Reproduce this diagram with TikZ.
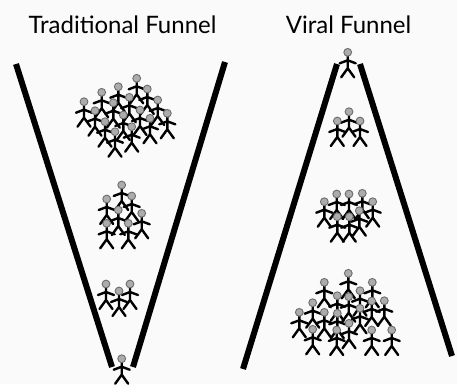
\documentclass[tikz,border=0pt]{standalone}
\usepackage{fontspec}
\setmainfont{Lato}
\begin{document}
\begin{tikzpicture}[x=1pt,y=-1pt,
  funnel/.style={line width=6pt},
  limb/.style={line width=2.4pt, line cap=round, line join=round},
  headstyle/.style={fill=gray!65, draw=gray!85!black, line width=0.9pt},
  person/.pic={
    \draw[limb] (0,3) -- (0,16)
                (-8,11) -- (0,8) -- (8,11)
                (-6.5,25) -- (0,16) -- (6.5,25);
    \draw[headstyle] (0,0) circle (3.9);
  },
  title/.style={font=\fontsize{24}{28}\selectfont, inner sep=0pt}
]
\useasboundingbox[fill=gray!4] (0,0) rectangle (457,384);

% titles
\node[title] (tradtitle) at (122.5,25) {Traditional Funnel};
\node[title] (viraltitle) at (348.5,25) {Viral Funnel};

% traditional funnel walls
\draw[funnel] (16,64) -- (112,367);
\draw[funnel] (225,62) -- (133,367);

% viral funnel walls
\draw[funnel] (337,64) -- (243,369);
\draw[funnel] (360,64) -- (452,356);

% traditional funnel: crowd at the wide top
\foreach \x/\y in {136.7/78.3, 118.3/86.7, 147.3/89, 101.7/92.3, 129.3/97.3,
                   157.7/100, 84/101.7, 113.3/102.7, 140/110, 95/110.7,
                   167.3/113.3, 123.3/115, 150/118.3, 105/121.7, 131.7/126.7,
                   115/131.7}
  \pic at (\x,\y) {person};

% traditional funnel: middle group
\foreach \x/\y in {121.7/185, 131.7/196, 106.7/199, 118.3/210, 141.7/213.3,
                   106.7/223.3, 128.3/223.3}
  \pic at (\x,\y) {person};

% traditional funnel: small group
\foreach \x/\y in {106/284, 130/284, 119/291}
  \pic at (\x,\y) {person};

% traditional funnel: the one at the bottom
\pic at (121.7,358.7) {person};

% viral funnel: the one at the top
\pic at (347.7,52.3) {person};

% viral funnel: small group
\foreach \x/\y in {349/111.7, 337.3/121, 360/121}
  \pic at (\x,\y) {person};

% viral funnel: middle group
\foreach \x/\y in {336.7/194, 349/194, 362.3/193.3, 324.3/201.7, 372.7/201.7,
                   359.3/210.7, 337.3/216.7, 349.3/216.7}
  \pic at (\x,\y) {person};

% viral funnel: crowd at the wide bottom
\foreach \x/\y in {348.3/273.3, 324.3/282.3, 372.3/282.3, 360/290.7,
                   337.3/295.7, 348.7/296.7, 312.7/302.7, 371.7/301,
                   384.3/300.7, 299.3/312.3, 324.3/312.3, 337.3/313.3,
                   360/308.3, 312.7/329.3, 336.7/330, 349/323.3,
                   371.7/330, 391.7/330}
  \pic at (\x,\y) {person};
\end{tikzpicture}
\end{document}
